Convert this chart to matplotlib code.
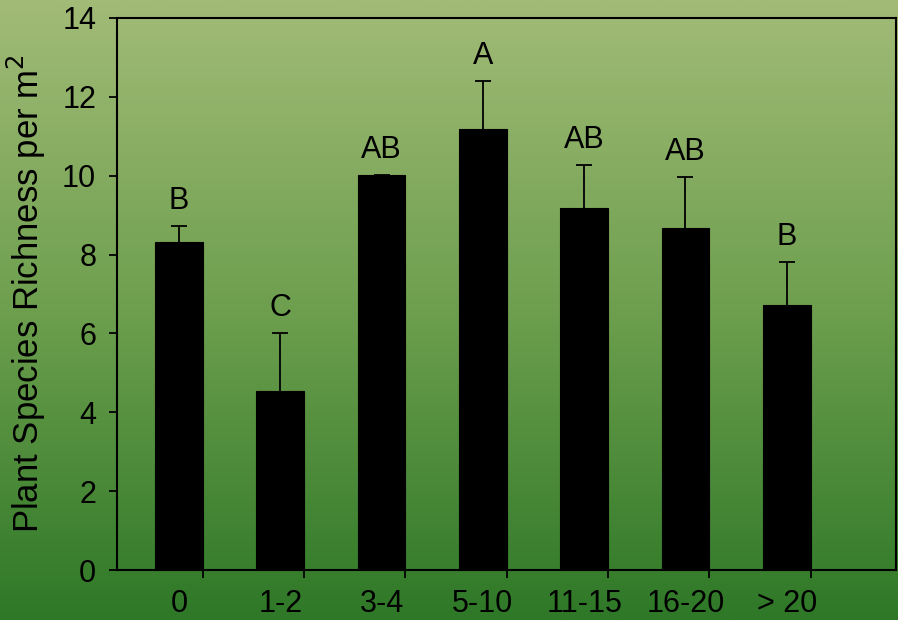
import numpy as np
import matplotlib.pyplot as plt
from matplotlib.colors import LinearSegmentedColormap

plt.rcParams['font.family'] = ['Liberation Sans', 'DejaVu Sans']

# Mean richness per distance class, upper standard error, and letter groups
classes = ["0", "1-2", "3-4", "5-10", "11-15", "16-20", "> 20"]
richness = [8.31, 4.53, 10.02, 11.18, 9.19, 8.67, 6.72]
std_err = [0.41, 1.48, 0.0, 1.22, 1.09, 1.30, 1.09]
groups = ["B", "C", "AB", "A", "AB", "AB", "B"]

fig = plt.figure(figsize=(8.98, 6.2), dpi=100)

# green gradient background over the whole figure
bg = fig.add_axes([0, 0, 1, 1], zorder=-1)
grad = LinearSegmentedColormap.from_list("bg", ["#a2bb77", "#6d9f4e", "#2e7827"])
bg.imshow(np.linspace(0, 1, 256).reshape(-1, 1), aspect="auto", cmap=grad,
          extent=[0, 1, 0, 1])
bg.axis("off")

ax = fig.add_axes([0.1303, 0.0806, 0.8675, 0.8904])
ax.patch.set_alpha(0)

x = np.arange(len(classes))
width = 0.47
ax.bar(x, richness, width=width, color="black", edgecolor="black", linewidth=0.8)
_, caps, _ = ax.errorbar(x, richness, yerr=[np.zeros(len(x)), std_err], fmt="none",
                         ecolor="black", elinewidth=1.3, capsize=6, capthick=1.3)
caps[0].set_visible(False)  # upper bars only

for xi, m, e, g in zip(x, richness, std_err, groups):
    ax.annotate(g, xy=(xi, m + e), xytext=(0, 7), textcoords="offset points",
                ha="center", va="bottom", fontsize=22)

ax.set_xlim(-0.611, 7.079)
ax.set_ylim(0, 14)
ax.set_yticks(range(0, 15, 2))
ax.set_xticks(x + width / 2)
ax.set_xticklabels([])
ax.set_xticks(x, minor=True)
ax.set_xticklabels(classes, minor=True)
ax.tick_params(axis="x", which="minor", length=0, pad=14, labelsize=22)
ax.tick_params(axis="x", which="major", direction="out", length=6, width=1.3)
ax.tick_params(axis="y", direction="out", length=6, width=1.3, pad=9, labelsize=22)

for side in ["left", "bottom", "top", "right"]:
    ax.spines[side].set_linewidth(1.5)

ax.set_ylabel("Plant Species Richness per m$^2$", fontsize=25, labelpad=10)

plt.savefig("out.png", dpi=100)
